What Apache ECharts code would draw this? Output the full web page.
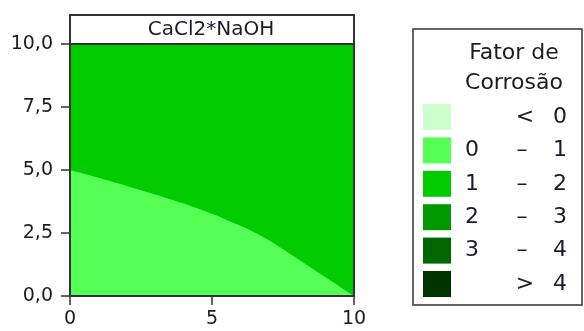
<!DOCTYPE html>
<html>
<head>
<meta charset="utf-8">
<script src="https://cdn.jsdelivr.net/npm/echarts@6/dist/echarts.min.js"></script>
<style>
html,body{margin:0;padding:0;background:#fff;}
#c{width:584px;height:331px;}
</style>
</head>
<body>
<div id="c"></div>
<script>
// ---- data ----
const plotTitle = 'CaCl2*NaOH';
const xTickValues = [0, 5, 10];
const xTickLabels = ['0', '5', '10'];
const yTickValues = [0, 2.5, 5, 7.5, 10];
const yTickLabels = ['0,0', '2,5', '5,0', '7,5', '10,0'];
// contour boundary between "0 – 1" and "1 – 2" (NaOH vs CaCl2)
const boundaryX = [0, 0.5, 1, 1.5, 2, 2.5, 3, 3.5, 4, 4.5, 5, 5.5, 6, 6.5, 7, 7.5, 8, 8.5, 9, 9.5, 10];
const boundaryY = [5.00, 4.85, 4.69, 4.53, 4.37, 4.20, 4.03, 3.85, 3.67, 3.47, 3.26, 3.03, 2.79, 2.52, 2.21, 1.86, 1.49, 1.11, 0.74, 0.37, 0.00];
// upper level fills the whole region
const bandX = [0, 10];
const bandY = [10, 10];
const legendTitle = ['Fator de', 'Corrosão'];
const legendLow = ['', '0', '1', '2', '3', ''];
const legendSep = ['<', '–', '–', '–', '–', '>'];
const legendHigh = ['0', '1', '2', '3', '4', '4'];
const legendColors = ['#CCFFCC', '#55FF55', '#00CC00', '#009900', '#006600', '#003300'];

const font = 'DejaVu Sans';
const txt = '#1a1a2a';

const chart = echarts.init(document.getElementById('c'), null, {renderer: 'canvas'});

const graphics = [];
// title box
graphics.push({type: 'rect', shape: {x: 70, y: 15, width: 284, height: 29},
  style: {fill: '#fff', stroke: '#333', lineWidth: 2}, z: 10});
graphics.push({type: 'text', x: 211, y: 30, z: 11,
  style: {text: plotTitle, font: '20px "' + font + '"', fill: txt, textAlign: 'center', textVerticalAlign: 'middle'}});
// legend box
graphics.push({type: 'rect', shape: {x: 413, y: 29, width: 169, height: 276},
  style: {fill: '#fff', stroke: '#333', lineWidth: 1.5}, z: 10});
legendTitle.forEach((t, i) => {
  graphics.push({type: 'text', x: 514, y: 53 + i * 30, z: 11,
    style: {text: t, font: '22px "' + font + '"', fill: txt, textAlign: 'center', textVerticalAlign: 'middle'}});
});
legendColors.forEach((c, i) => {
  const cy = 117 + i * 33.4;
  graphics.push({type: 'rect', shape: {x: 423, y: cy - 13, width: 28, height: 26}, style: {fill: c}, z: 11});
  const f = '22px "' + font + '"';
  if (legendLow[i]) graphics.push({type: 'text', x: 472, y: cy, z: 11,
    style: {text: legendLow[i], font: f, fill: txt, textAlign: 'center', textVerticalAlign: 'middle'}});
  graphics.push({type: 'text', x: legendLow[i] ? 522 : 525, y: cy, z: 11,
    style: {text: legendSep[i], font: f, fill: txt, textAlign: 'center', textVerticalAlign: 'middle'}});
  graphics.push({type: 'text', x: 560, y: cy, z: 11,
    style: {text: legendHigh[i], font: f, fill: txt, textAlign: 'center', textVerticalAlign: 'middle'}});
});

const option = {
  animation: false,
  backgroundColor: '#fff',
  textStyle: {fontFamily: font},
  grid: {left: 70, top: 44, right: 230, bottom: 35, show: true, borderColor: '#333', borderWidth: 2, backgroundColor: 'transparent', z: 5},
  xAxis: {
    type: 'value', min: 0, max: 10, interval: 5,
    axisLine: {show: true, onZero: false, lineStyle: {color: '#333', width: 2}},
    axisTick: {show: true, length: 9, lineStyle: {color: '#333', width: 1.5}},
    axisLabel: {margin: 14, color: txt, fontSize: 19, fontFamily: font,
      formatter: v => xTickLabels[xTickValues.indexOf(v)]},
    splitLine: {show: false}
  },
  yAxis: {
    type: 'value', min: 0, max: 10, interval: 2.5,
    axisLine: {show: true, onZero: false, lineStyle: {color: '#333', width: 2}},
    axisTick: {show: true, length: 9, lineStyle: {color: '#333', width: 1.5}},
    axisLabel: {margin: 17, color: txt, fontSize: 19, fontFamily: font,
      formatter: v => yTickLabels[yTickValues.indexOf(v)]},
    splitLine: {show: false}
  },
  series: [
    {
      name: '1 – 2', type: 'line', data: bandX.map((x, i) => [x, bandY[i]]),
      showSymbol: false, lineStyle: {width: 0}, areaStyle: {color: legendColors[2], opacity: 1, origin: 'start'}, z: 1
    },
    {
      name: '0 – 1', type: 'line', data: boundaryX.map((x, i) => [x, boundaryY[i]]),
      smooth: 0.3, showSymbol: false, lineStyle: {width: 0}, areaStyle: {color: legendColors[1], opacity: 1, origin: 'start'}, z: 2
    }
  ],
  graphic: graphics
};
chart.setOption(option);
</script>
</body>
</html>
